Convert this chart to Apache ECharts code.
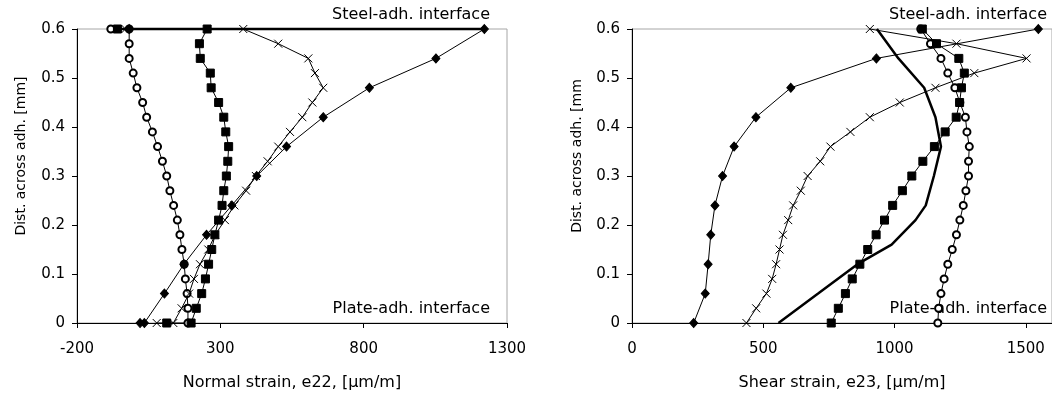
<!DOCTYPE html>
<html>
<head>
<meta charset="utf-8">
<script src="https://cdn.jsdelivr.net/npm/echarts@6/dist/echarts.min.js"></script>
<style>
  html, body { margin: 0; padding: 0; background: #fff; }
  #chart { width: 1052px; height: 396px; }
</style>
</head>
<body>
<div id="chart"></div>
<script>
// depth levels across the adhesive [mm]
var depthFine = [0, 0.03, 0.06, 0.09, 0.12, 0.15, 0.18, 0.21, 0.24, 0.27, 0.3,
                 0.33, 0.36, 0.39, 0.42, 0.45, 0.48, 0.51, 0.54, 0.57, 0.6]
var depthCoarse = [0, 0.06, 0.12, 0.18, 0.24, 0.3, 0.36, 0.42, 0.48, 0.54, 0.6]

// normal strain e22 [um/m] (left chart)
var e22Circle = [187, 187, 184, 178, 174, 166, 159, 150, 137, 124, 113,
                 98, 81, 63, 43, 29, 9, -4, -18, -18, -18]
var e22Square = [198, 216, 235, 248, 259, 270, 281, 294, 306, 312, 321,
                 326, 329, 319, 312, 294, 268, 265, 230, 227, 254]
var e22Cross = [136, 165, 191, 208, 229, 258, 282, 316, 349, 390, 424,
                465, 502, 543, 586, 621, 659, 630, 607, 502, 380]
var e22Diamond = [35, 105, 173, 252, 340, 427, 531, 659, 820, 1052, 1221]
// extra face values plotted along the plate (0) and steel (0.6) edges
var e22PlateEdge = { circle: null, square: 113, cross: 78, diamond: 20 }
var e22SteelEdge = { circle: -82, square: -59, cross: -31, diamond: -18 }
// heavy line along the steel face
var e22SteelLine = [-82, 1221]

// shear strain e23 [um/m] (right chart)
var e23Circle = [1165, 1168, 1177, 1189, 1203, 1220, 1236, 1249, 1262, 1272, 1282,
                 1282, 1285, 1276, 1270, 1249, 1230, 1203, 1177, 1137, 1100]
var e23Square = [759, 786, 813, 839, 868, 898, 930, 962, 993, 1030, 1066,
                 1108, 1152, 1193, 1235, 1248, 1255, 1266, 1245, 1160, 1106]
var e23Cross = [436, 473, 512, 534, 549, 562, 575, 595, 614, 643, 669,
                717, 756, 832, 906, 1020, 1156, 1304, 1503, 1236, 906]
var e23Diamond = [235, 279, 290, 300, 316, 345, 389, 472, 605, 931, 1548]
// thick curve without markers
var modelDepth = [0, 0.06, 0.12, 0.16, 0.21, 0.24, 0.3, 0.36, 0.42, 0.48, 0.54, 0.6]
var e23Model = [558, 709, 859, 989, 1080, 1119, 1150, 1177, 1156, 1113, 1015, 933]

// axis ticks
var e22Ticks = [-200, 300, 800, 1300]
var e23Ticks = [0, 500, 1000, 1500]
var depthTicks = [0, 0.1, 0.2, 0.3, 0.4, 0.5, 0.6]

// zip strain values with depths, adding the edge points if any
function pairs(vals, depths, plate, steel) {
  var out = []
  if (plate != null) out.push([plate, 0])
  for (var i = 0; i < vals.length; i++) out.push([vals[i], depths[i]])
  if (steel != null) out.push([steel, 0.6])
  return out
}

var crossPath = 'path://M0,0L10,10M10,0L0,10'
var tickFont = { fontFamily: 'DejaVu Sans', fontSize: 15, color: '#000' }
var nameFont = { fontFamily: 'DejaVu Sans', fontSize: 16, color: '#000' }
var plain = function (v) { return String(v) } // no thousands separator

function lineSeries(idx, data, symbol, size, width) {
  return {
    type: 'line',
    xAxisIndex: idx,
    yAxisIndex: idx,
    data: data,
    symbol: symbol,
    symbolSize: size,
    showAllSymbol: true,
    clip: false,
    lineStyle: { color: '#000', width: width || 1 },
    itemStyle: { color: '#000', borderColor: '#000', borderWidth: 1 },
    emphasis: { disabled: true }
  }
}

function xAxis(idx, ticks, name) {
  return {
    gridIndex: idx,
    type: 'value',
    min: ticks[0],
    max: idx === 0 ? ticks[ticks.length - 1] : 1600,
    interval: ticks[1] - ticks[0],
    name: name,
    nameLocation: 'middle',
    nameGap: 52,
    nameTextStyle: nameFont,
    axisLine: { show: true, onZero: false, lineStyle: { color: '#000', width: 1 } },
    axisTick: { show: true, inside: false, length: 5, lineStyle: { color: '#000' } },
    axisLabel: Object.assign({ margin: 19, formatter: plain }, tickFont),
    splitLine: { show: false }
  }
}

function yAxis(idx) {
  return {
    gridIndex: idx,
    type: 'value',
    min: depthTicks[0],
    max: depthTicks[depthTicks.length - 1],
    interval: 0.1,
    axisLine: { show: true, onZero: false, lineStyle: { color: '#000', width: 1 } },
    axisTick: { show: true, inside: false, length: 5, lineStyle: { color: '#000' } },
    axisLabel: Object.assign({ margin: 12, formatter: plain }, tickFont),
    splitLine: { show: false }
  }
}

function label(text, x, y, align, rotate, font) {
  return {
    type: 'text',
    x: x,
    y: y,
    rotation: rotate || 0,
    style: {
      text: text,
      align: align,
      verticalAlign: 'middle',
      fill: '#000',
      fontFamily: font ? font.fontFamily : 'DejaVu Sans',
      fontSize: font ? font.fontSize : 16
    }
  }
}

var vFont = { fontFamily: 'DejaVu Sans', fontSize: 14 }

var chart = echarts.init(document.getElementById('chart'))
chart.setOption({
  animation: false,
  backgroundColor: '#fff',
  grid: [
    { left: 77, top: 29, width: 430, height: 295, show: true, borderColor: '#a6a6a6', borderWidth: 1 },
    { left: 632, top: 29, width: 431, height: 295, show: true, borderColor: '#a6a6a6', borderWidth: 1 }
  ],
  xAxis: [
    xAxis(0, e22Ticks, 'Normal strain, e22, [\u00b5m/m]'),
    xAxis(1, e23Ticks, 'Shear strain, e23, [\u00b5m/m]')
  ],
  yAxis: [yAxis(0), yAxis(1)],
  graphic: [
    label('Steel-adh. interface', 490, 15, 'right'),
    label('Plate-adh. interface', 490, 309, 'right'),
    label('Steel-adh. interface', 1047, 15, 'right'),
    label('Plate-adh. interface', 1047, 309, 'right'),
    label('Dist. across adh. [mm]', 21, 156, 'center', Math.PI / 2, vFont),
    label('Dist. across adh. [mm', 577, 156, 'center', Math.PI / 2, vFont)
  ],
  series: [
    lineSeries(0, e22SteelLine.map(function (v) { return [v, 0.6] }), 'none', 0, 2.5),
    lineSeries(0, pairs(e22Circle, depthFine, e22PlateEdge.circle, e22SteelEdge.circle), 'emptyCircle', 7),
    lineSeries(0, pairs(e22Square, depthFine, e22PlateEdge.square, e22SteelEdge.square), 'rect', 8),
    lineSeries(0, pairs(e22Cross, depthFine, e22PlateEdge.cross, e22SteelEdge.cross), crossPath, 8),
    lineSeries(0, pairs(e22Diamond, depthCoarse, e22PlateEdge.diamond, e22SteelEdge.diamond), 'diamond', [8, 9]),
    lineSeries(1, pairs(e23Circle, depthFine), 'emptyCircle', 7),
    lineSeries(1, pairs(e23Square, depthFine), 'rect', 8),
    lineSeries(1, pairs(e23Cross, depthFine), crossPath, 8),
    lineSeries(1, pairs(e23Diamond, depthCoarse), 'diamond', [8, 9]),
    lineSeries(1, pairs(e23Model, modelDepth), 'none', 0, 2.5)
  ]
})
</script>
</body>
</html>
